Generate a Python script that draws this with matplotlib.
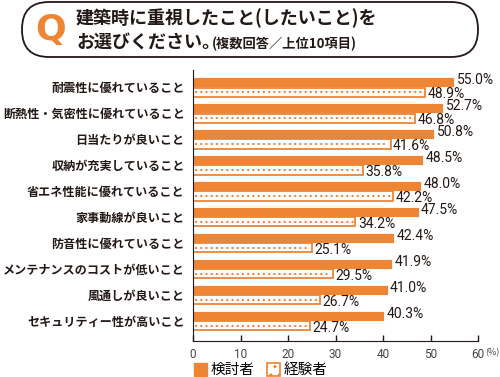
import matplotlib.pyplot as plt
import matplotlib.patches as mpatches
import numpy as np

plt.rcParams['font.family'] = ['Noto Sans CJK JP', 'DejaVu Sans']

categories = ['耐震性に優れていること', '断熱性・気密性に優れていること', '日当たりが良いこと',
              '収納が充実していること', '省エネ性能に優れていること', '家事動線が良いこと',
              '防音性に優れていること', 'メンテナンスのコストが低いこと', '風通しが良いこと',
              'セキュリティー性が高いこと']
kentou = [55.0, 52.7, 50.8, 48.5, 48.0, 47.5, 42.4, 41.9, 41.0, 40.3]
keiken = [48.9, 46.8, 41.6, 35.8, 42.2, 34.2, 25.1, 29.5, 26.7, 24.7]
series_names = ['検討者', '経験者']
xticks = [0, 10, 20, 30, 40, 50, 60]

orange = '#EE8535'
dark = '#231815'

fig = plt.figure(figsize=(5, 3.77), dpi=100)

# title box, pixel coordinates (origin bottom-left)
bg = fig.add_axes([0, 0, 1, 1])
bg.set_xlim(0, 500)
bg.set_ylim(0, 377)
bg.axis('off')
box = mpatches.FancyBboxPatch((22, 320), 456, 55, boxstyle='round,pad=0,rounding_size=27',
                              fc='white', ec=dark, lw=1.3)
bg.add_patch(box)
bg.text(51, 347, 'Q', color=orange, fontsize=26, fontweight='bold', ha='center', va='center',
        family=['DejaVu Sans'])
bg.text(76, 359, '建築時に重視したこと(したいこと)を', fontsize=13, fontweight='bold',
        color=dark, ha='left', va='center')
bg.text(76, 334, 'お選びください。', fontsize=13, fontweight='bold',
        color=dark, ha='left', va='center')
bg.text(212, 333, '(複数回答／上位10項目)', fontsize=9.5, fontweight='bold',
        color=dark, ha='left', va='center')

ax = fig.add_axes([193/500, 1-341/377, 285/500, 271/377])
y = np.arange(len(categories))
h = 0.385
ax.barh(y - h/2, kentou, height=h, color=orange, edgecolor='white', linewidth=0.6)
ax.barh(y + h/2, keiken, height=h * 0.9, color='white', edgecolor=orange, linewidth=1.3)
# dotted fill of the 経験者 bars
for i in range(len(categories)):
    ax.plot([0.6, keiken[i] - 0.5], [y[i] + h/2, y[i] + h/2], color=orange, lw=1.7,
            linestyle=(0, (0.01, 2.2)), dash_capstyle='round')

for i in range(len(categories)):
    ax.text(kentou[i] + 0.5, y[i] - 0.27, f'{kentou[i]:.1f}%', fontsize=10,
            color=dark, va='center', ha='left', family=['Roboto'])
    ax.text(keiken[i] + 0.5, y[i] + 0.28, f'{keiken[i]:.1f}%', fontsize=10,
            color=dark, va='center', ha='left', family=['Roboto'])

ax.set_ylim(9.77, -0.654)
ax.set_xlim(0, 60)
ax.set_yticks(y)
ax.set_yticklabels(categories, fontsize=8.7, fontweight='bold', color=dark)
ax.tick_params(axis='y', length=0, pad=6)
ax.set_xticks(xticks)
ax.set_xticklabels([str(t) for t in xticks], fontsize=8.5, color='#444444', family=['Roboto'])
ax.tick_params(axis='x', direction='in', length=4, width=1, color=dark, pad=5)
ax.spines['top'].set_visible(False)
ax.spines['right'].set_visible(False)
ax.spines['left'].set_color(dark)
ax.spines['bottom'].set_color(dark)
ax.text(61.6, 9.77 + 0.46, '(%)', fontsize=6.5, color='#444444', ha='left', va='center',
        clip_on=False)

plt.rcParams['hatch.color'] = orange
handles = [mpatches.Patch(fc=orange, ec=orange),
           mpatches.Patch(fc='white', ec=orange, hatch='..', lw=1.2)]
fig.legend(handles, series_names, loc='lower left', bbox_to_anchor=(181/500, -0.035),
           ncol=2, frameon=False, handlelength=0.9, handleheight=1.0,
           handletextpad=0.2, columnspacing=0.9, prop={'size': 10.5})

fig.savefig('out.png', dpi=100)
